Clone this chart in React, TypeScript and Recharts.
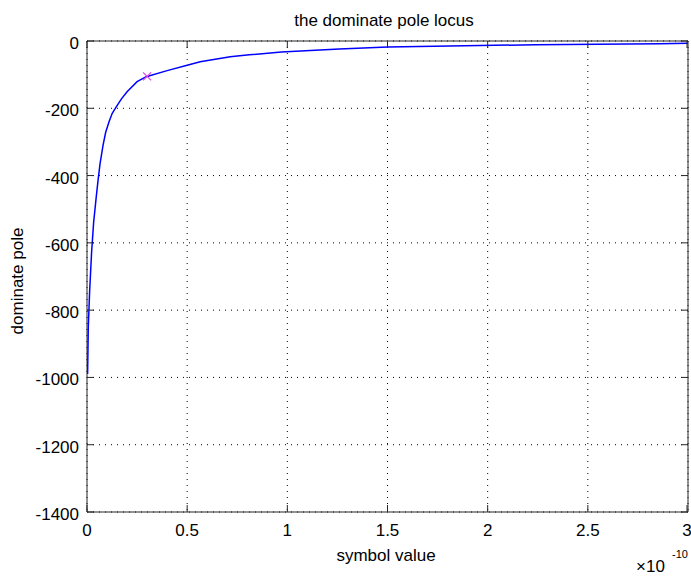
import React from 'react';
import { LineChart, Line, XAxis, YAxis, CartesianGrid, ReferenceDot } from 'recharts';

// x in units of 1e-10
const symbolValues = [
  0.003, 0.0065, 0.013, 0.023, 0.033, 0.045, 0.055, 0.065, 0.08, 0.093,
  0.11, 0.126, 0.146, 0.172, 0.2, 0.25, 0.296, 0.4, 0.5, 0.565, 0.715, 0.81, 0.97,
  1.26, 1.5, 1.81, 2.24, 2.86, 3.0,
];
const dominatePole = [
  -990, -850, -746, -627, -540, -470, -415, -365, -310, -272,
  -240, -215, -196, -172, -151, -121, -106, -88, -72, -62, -47, -41, -33,
  -24, -18, -15, -11, -8, -7,
];
const marker = { x: 0.3, y: -105 };

const xTicks = [0, 0.5, 1, 1.5, 2, 2.5, 3];
const yTicks = [-1400, -1200, -1000, -800, -600, -400, -200, 0];

const data = symbolValues.map((x, i) => ({ x, pole: dominatePole[i] }));

const FONT = '"Liberation Sans", Arial, sans-serif';
const AXIS = '#262626';
const TICK_LEN = 7;

// MATLAB style ticks: drawn inward from the axis, label outside
const BottomTick = (props: any) => {
  const { x, y, payload } = props;
  return (
    <g>
      <line x1={x} y1={y} x2={x} y2={y - TICK_LEN} stroke={AXIS} />
      <text x={x} y={y + 24} textAnchor="middle" fontSize={17} fontFamily={FONT} fill="#000">
        {payload.value}
      </text>
    </g>
  );
};
const LeftTick = (props: any) => {
  const { x, y, payload } = props;
  return (
    <g>
      <line x1={x} y1={y} x2={x + TICK_LEN} y2={y} stroke={AXIS} />
      <text x={x - 8} y={y + 8} textAnchor="end" fontSize={17} fontFamily={FONT} fill="#000">
        {payload.value}
      </text>
    </g>
  );
};
const TopTick = (props: any) => {
  const { x, y } = props;
  return <line x1={x} y1={y} x2={x} y2={y + TICK_LEN} stroke={AXIS} />;
};
const RightTick = (props: any) => {
  const { x, y } = props;
  return <line x1={x} y1={y} x2={x - TICK_LEN} y2={y} stroke={AXIS} />;
};

const CrossShape = (props: any) => {
  const { cx, cy } = props;
  const s = 4;
  return (
    <g stroke="#e040e0" strokeWidth={1.2}>
      <line x1={cx - s} y1={cy - s} x2={cx + s} y2={cy + s} />
      <line x1={cx - s} y1={cy + s} x2={cx + s} y2={cy - s} />
    </g>
  );
};

export default function App() {
  return (
    <div style={{ position: 'absolute', left: 0, top: 0, width: 691, height: 576, background: '#fff' }}>
      <LineChart
        width={691}
        height={576}
        data={data}
        margin={{ top: 40, right: 2, left: 0, bottom: 0 }}
      >
        <CartesianGrid
          stroke="#000"
          strokeDasharray="1 5"
          horizontalValues={yTicks}
          verticalValues={xTicks}
        />
        <XAxis
          dataKey="x"
          type="number"
          domain={[0, 3]}
          ticks={xTicks}
          allowDataOverflow
          height={64}
          tick={BottomTick}
          tickSize={0}
          tickMargin={0}
          tickLine={false}
          axisLine={{ stroke: AXIS }}
        />
        <XAxis
          xAxisId="top"
          dataKey="x"
          orientation="top"
          type="number"
          domain={[0, 3]}
          ticks={xTicks}
          allowDataOverflow
          height={1}
          tick={TopTick}
          tickSize={0}
          tickMargin={0}
          tickLine={false}
          axisLine={{ stroke: AXIS }}
        />
        <YAxis
          type="number"
          domain={[-1400, 0]}
          ticks={yTicks}
          allowDataOverflow
          width={87}
          tick={LeftTick}
          tickSize={0}
          tickMargin={0}
          tickLine={false}
          axisLine={{ stroke: AXIS }}
        />
        <YAxis
          yAxisId="right"
          orientation="right"
          type="number"
          domain={[-1400, 0]}
          ticks={yTicks}
          allowDataOverflow
          width={1}
          tick={RightTick}
          tickSize={0}
          tickMargin={0}
          tickLine={false}
          axisLine={{ stroke: AXIS }}
        />
        {/* invisible series so the top and right axes are drawn */}
        <Line
          xAxisId="top"
          yAxisId="right"
          type="linear"
          dataKey="pole"
          stroke="none"
          dot={false}
          activeDot={false}
          isAnimationActive={false}
        />
        <Line
          type="linear"
          dataKey="pole"
          stroke="#0000ff"
          strokeWidth={1.5}
          dot={false}
          isAnimationActive={false}
        />
        <ReferenceDot x={marker.x} y={marker.y} shape={CrossShape} />
      </LineChart>
      <svg
        width={691}
        height={576}
        style={{ position: 'absolute', left: 0, top: 0, pointerEvents: 'none' }}
        fontFamily={FONT}
        fill="#000"
      >
        <text x={384} y={26} fontSize={17} textAnchor="middle">the dominate pole locus</text>
        <text x={386} y={561} fontSize={17} textAnchor="middle">symbol value</text>
        <text x={23} y={281} fontSize={17} textAnchor="middle" transform="rotate(-90 23 281)">dominate pole</text>
        <text x={636} y={572} fontSize={17}>×10</text>
        <text x={672} y={558} fontSize={11}>-10</text>
      </svg>
    </div>
  );
}
